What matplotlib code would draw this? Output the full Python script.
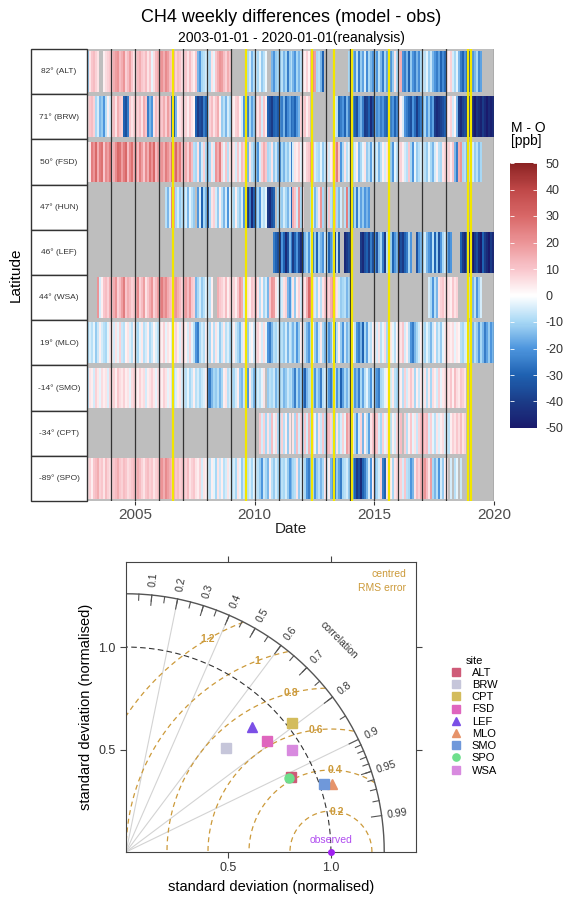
import numpy as np
import matplotlib.pyplot as plt
from matplotlib.colors import LinearSegmentedColormap, Normalize
from matplotlib.patches import Rectangle

plt.rcParams['font.family'] = ['Liberation Sans', 'DejaVu Sans']
plt.rcParams['axes.unicode_minus'] = False

N = np.nan

sites = ["ALT", "BRW", "FSD", "HUN", "LEF", "WSA", "MLO", "SMO", "CPT", "SPO"]
latitudes = [82, 71, 50, 47, 46, 44, 19, -14, -34, -89]
years = list(range(2003, 2020))
model_updates = [2006.60, 2009.64, 2012.38, 2013.30, 2014.06, 2015.60, 2018.90, 2019.04]

# monthly means of the weekly model - obs differences [ppb], one row per year 2003..2019
alt = [
    [-12, 5, 10, 12, 8, 5, N, N, 3, 6, 8, 10],
    [10, 15, 18, 20, 12, 15, 20, 8, 12, 18, 10, 5],
    [8, 12, 15, 10, 8, 12, 5, 10, -3, 6, 12, 15],
    [18, 20, 15, 22, 18, 12, 10, 15, 8, 12, 10, 6],
    [8, 10, 5, 12, 6, 3, 10, -15, -20, -10, -8, -5],
    [-8, -10, 5, -3, 10, 15, 20, 18, 12, 8, 15, 10],
    [N, N, N, N, N, N, N, N, -10, -5, -15, -8],
    [-5, -10, -3, -12, -8, -2, N, N, -15, -20, -12, -10],
    [-12, -8, -15, -10, -25, -12, -8, -15, -20, -10, -15, -8],
    [5, 3, 8, 2, 15, 22, 18, -10, -8, -15, -30, N],
    [N, N, N, N, N, N, N, N, N, N, N, -10],
    [-10, -15, -20, -8, -25, -12, -18, -5, -22, -10, -15, -20],
    [-12, -20, -8, -15, -25, -10, -18, -5, -20, -12, 5, -10],
    [10, 15, -20, -25, -15, -30, -12, -20, -25, -15, -22, -10],
    [-5, -8, -3, -12, -6, -15, -20, -25, -18, -30, -22, -28],
    [5, 3, 8, -5, -10, -3, -15, -25, -30, -20, -28, -35],
    [-25, -20, -15, -10, -22, -18, N, N, N, N, N, N],
]
brw = [
    [5, 10, 12, 8, -10, -5, -15, -12, -20, -8, 3, -5],
    [8, 12, 5, 15, 10, 8, -30, -35, -25, 10, 5, 8],
    [10, 8, 12, 5, 15, 10, -25, -15, -20, 5, 12, 8],
    [12, 10, 15, 8, 18, 12, -30, -35, -15, 3, 5, 8],
    [5, 8, 3, 10, 5, 2, -30, -40, -35, -38, -25, -30],
    [-10, 8, 12, 5, 10, 15, 3, -12, -8, -15, -5, -10],
    [5, 3, 8, 10, 2, -5, -20, -15, -25, -10, -18, -12],
    [8, 5, 12, -5, 10, 3, -30, -35, -40, -30, -28, -32],
    [-20, -25, -15, -30, -22, -18, -28, -25, -30, -20, -15, 8],
    [5, 10, 3, 8, N, N, N, N, N, N, N, N],
    [N, N, N, N, -5, -8, -30, -25, -20, -30, -15, -25],
    [-20, -25, -30, -35, -20, -15, -25, -40, -38, -30, -45, -35],
    [-15, -22, -18, -25, -20, -28, -30, -35, -25, -20, -30, -22],
    [5, 3, -5, -20, -25, -30, -35, -20, -28, -40, -30, -25],
    [-15, -10, -20, -12, -25, -18, -40, -45, -42, -38, -35, -30],
    [5, 3, 8, -5, 2, -15, -40, -45, -38, -35, -42, -40],
    [-40, -45, -50, -42, -45, -48, -40, -45, -50, -45, -48, -45],
]
fsd = [
    [0, 5, 25, 20, 30, 15, 25, 28, 10, 22, 18, 25],
    [10, 15, 22, 30, 28, 18, 25, 30, 12, 22, 28, 15],
    [20, 12, 25, 18, 10, 22, 15, 28, 20, 30, 12, 18],
    [18, 20, 15, 25, 20, 15, 28, 22, 30, 18, 25, 12],
    [10, 15, 8, 20, 12, -8, -10, 5, -15, -5, 8, -10],
    [-15, -10, 5, -5, 20, 15, 25, 8, -3, 10, -8, 5],
    [8, 5, -5, 10, -3, 12, 8, -10, -15, 5, -8, -12],
    [-12, -20, -5, 8, 15, 10, -10, -8, 5, -12, -6, -15],
    [-20, -10, -15, -8, -12, -5, -25, -5, 5, 3, 8, -3],
    [5, 3, 8, 10, 20, 15, -5, -8, -10, -3, -12, -6],
    [5, -5, 3, 8, 15, 25, 10, -20, -10, 5, -8, -3],
    [-8, -10, -5, 3, -15, -10, -3, 5, -12, -8, -18, -5],
    [-10, -5, -15, -8, 3, -5, 5, 8, -12, -20, -3, -8],
    [5, 8, 3, -5, -8, 10, -10, -20, -3, -12, -8, -5],
    [-5, -8, -12, -3, -10, -15, -5, 3, -8, -10, 5, 8],
    [5, 8, 3, 10, -15, -25, 15, 20, -10, -8, -15, -5],
    [-10, -5, -12, -8, -15, -10, N, N, N, N, N, N],
]
hun = [
    [N] * 12,
    [N] * 12,
    [N] * 12,
    [N, N, N, -8, -15, -5, 25, 20, -10, -5, -12, -8],
    [-10, -5, -15, -3, -8, -12, N, -20, -5, -30, -10, -15],
    [-35, -10, 5, 8, -5, -12, 3, -8, -15, -5, -20, -3],
    [-5, -10, 3, -8, -12, -5, -20, -35, -40, -25, -45, -30],
    [-15, -10, -20, -5, -8, -3, -40, -45, -35, -30, N, -10],
    [-8, -12, -5, -10, -15, -6, -30, 15, 10, -5, 20, -10],
    [5, N, N, N, -10, -5, -15, -8, 5, 20, -10, N],
    [-5, 10, -8, -12, 15, -10, -15, -5, N, -8, 25, -10],
    [-15, -20, -10, -25, -8, -18, -12, -20, -15, -20, N, N],
    [N] * 12,
    [N] * 12,
    [N] * 12,
    [N] * 12,
    [N] * 12,
]
lef = [
    [N] * 12,
    [N] * 12,
    [N] * 12,
    [N] * 12,
    [N] * 12,
    [N] * 12,
    [N] * 12,
    [N, N, N, N, N, N, N, N, N, -25, -30, -35],
    [-40, -20, -30, -45, -35, -15, -25, -40, -30, -20, -35, -45],
    [-30, -15, -10, -20, -8, -25, -12, -30, -10, -15, -20, -5],
    [-10, -30, -20, -15, -40, -8, -35, N, N, -45, -40, -35],
    [-30, N, N, N, N, -40, -45, -35, -30, -40, -25, -35],
    [-20, -35, -15, -10, -25, -40, -8, -5, -12, -30, -20, -15],
    [-45, -35, -40, -30, -25, -10, -20, N, N, -35, -20, -15],
    [-10, -5, -15, -20, -25, -8, -30, -12, -35, -20, -10, -5],
    [-15, -25, -20, N, N, N, N, -30, -40, -45, -35, -50],
    [-45, -50, -40, -35, -45, -50, -30, -40, -45, -50, -40, -45],
]
wsa = [
    [N, N, N, N, N, 20, -5, 3, 10, 12, 8, 15],
    [10, 15, 20, 8, 12, 18, 25, 10, 15, 12, 8, 10],
    [15, 22, 8, 12, 18, 5, 10, 15, 20, 8, 12, 18],
    [20, 25, 18, 22, 15, 12, 10, 18, 20, 15, 12, 8],
    [15, 18, 12, 20, 10, 8, -15, -10, -5, -12, -8, -3],
    [-5, -8, 3, N, N, 15, 10, 8, 5, 12, 3, 8],
    [5, 8, 3, 10, 20, 15, -5, -8, 5, 3, 10, 8],
    [15, 5, -8, 3, -10, -5, -15, 10, 20, 18, 5, -3],
    [-10, -5, 5, 8, -15, -20, -8, 5, -12, 3, 8, -5],
    [10, 5, 15, 30, 25, 8, -5, -10, 3, -8, 5, 10],
    [12, 8, 15, 20, 10, 5, -5, -12, -10, -8, -15, -10],
    [-8, N, N, N, N, N, N, N, N, N, N, N],
    [N] * 12,
    [N] * 12,
    [N, N, N, -5, -10, -20, -8, -15, 5, 8, 10, 5],
    [8, 5, 3, 10, 5, 8, N, N, N, N, N, -5],
    [-10, -15, -8, -20, -12, -5, N, N, N, N, N, N],
]
mlo = [
    [-10, -5, -8, -3, -12, -6, 3, -5, -8, -10, -3, 5],
    [3, -5, 5, -3, 8, -6, -8, 2, 5, -4, -8, 3],
    [-6, -10, -3, 4, -8, -5, 3, -10, -6, 2, -4, -8],
    [5, 3, 8, -3, 5, 2, -5, 4, 8, 3, -4, 6],
    [5, 3, -5, 8, -3, -8, -20, -25, -10, -5, -8, 3],
    [-5, -10, 3, -8, 5, -3, -12, -6, 4, -8, -4, -10],
    [-4, 3, -6, -10, -15, -5, 4, -8, -12, -3, 2, -6],
    [5, 8, 3, -5, 6, -3, -20, -25, -15, -8, -10, -5],
    [-10, -8, -12, -5, -15, -6, -10, -15, -8, -20, -12, 3],
    [5, -8, -15, -20, -10, 3, -12, -18, -6, 4, -10, -15],
    [-10, -20, -15, -5, -25, -8, 3, -12, -20, -6, -15, -10],
    [-5, 3, -8, -20, -25, -15, -30, -10, -18, -5, -8, 3],
    [3, -5, 5, -8, -3, 6, -10, -5, 4, -3, -8, 2],
    [8, 5, 10, -5, 3, -8, -20, -25, -15, -10, -5, 3],
    [-5, -10, -3, -8, -15, -6, 3, -10, -5, -12, -3, 4],
    [8, 5, 3, 6, -3, 4, 2, -8, -10, -5, -3, -6],
    [-10, -15, -8, -12, -20, -10, -15, -25, -18, -12, -20, -15],
]
smo = [
    [-8, 5, 3, -5, 8, 4, -3, 6, 3, 5, -4, 8],
    [5, 8, 3, 10, 6, 4, 8, 3, 5, -3, 6, 8],
    [5, 3, 8, 4, 6, -5, 3, 5, 8, 4, -3, 6],
    [6, 3, 8, 5, -3, 4, -6, -8, -4, 3, 5, -5],
    [-5, -8, -3, -10, -6, 3, -8, -5, -10, -6, -4, 3],
    [-20, -25, -15, -10, -12, -8, -15, -10, 3, 5, -8, -5],
    [-8, -10, -5, 3, -12, -15, -6, -10, -20, 4, -8, -15],
    [-10, -5, -8, -3, 5, N, -12, -8, -10, -6, -15, -10],
    [-10, -8, -15, -12, -6, -10, -8, -15, -25, -10, -18, -12],
    [-20, -30, -15, -10, -8, -12, -20, -10, -15, -25, -8, -5],
    [-10, -20, -25, -15, -8, -20, -12, -30, -18, -10, -15, -8],
    [-5, -10, -20, -15, -25, -10, -18, -8, -3, -12, -20, -6],
    [-15, -20, -25, -10, -8, -3, 3, -12, -5, 4, -8, -10],
    [5, 3, -8, 8, -5, 4, 10, 5, -10, 3, -6, 4],
    [-3, 5, -8, 4, -10, 6, 3, -5, 8, -3, 4, 6],
    [8, 5, 10, 3, 12, 6, 4, 10, 8, 5, N, N],
    [N] * 12,
]
cpt = [
    [N] * 12,
    [N] * 12,
    [N] * 12,
    [N] * 12,
    [N] * 12,
    [N] * 12,
    [N] * 12,
    [N, N, 10, -5, 8, -10, 5, -8, 12, -3, 6, -10],
    [-5, 8, -8, 3, -12, 5, N, 5, -10, 12, -5, 8],
    [-8, 10, -5, 15, -10, 8, -3, -12, 5, -6, 10, -8],
    [15, 12, 8, -8, -12, 5, -10, -5, 8, -3, 18, 12],
    [20, 5, -10, -20, -5, 8, -15, 3, -8, -18, 5, 10],
    [15, 10, -5, -10, 8, -3, 5, 10, -8, 3, -5, 8],
    [5, 12, N, 8, -8, 3, 10, -3, 5, -6, 8, 12],
    [15, 10, 12, -5, 8, -3, -8, 5, -4, 3, 6, -5],
    [-5, -8, 3, 8, 5, 10, 6, 12, 5, 8, N, N],
    [N] * 12,
]
spo = [
    [5, 8, 3, 10, 12, 15, 8, 10, 5, 12, 8, 6],
    [8, 10, 12, 15, 10, 8, 12, 10, 6, 8, 10, 12],
    [10, 15, 12, 8, 5, 10, 12, 8, 10, 5, 8, 10],
    [18, 20, 15, 22, 18, 15, 12, 15, 10, 12, 8, 10],
    [10, 8, 12, 5, 8, 10, 5, 3, 8, -5, 5, 3],
    [-5, -8, 3, -3, -10, 5, -6, 3, -8, -5, 5, -3],
    [-8, -5, -10, 5, -3, -12, -6, -20, -8, -5, -10, -3],
    [-5, -8, -12, -20, -6, -10, -15, 3, -8, -12, -5, -10],
    [-15, -8, -10, -5, -12, -20, -15, -10, -8, 5, -12, -5],
    [-5, -10, -20, -25, -15, -10, -20, -12, -8, -15, -10, 5],
    [-5, 3, -15, -20, -25, -12, -18, -25, -10, -8, -5, -12],
    [-10, -20, -30, -40, -35, -45, -30, -25, -15, -5, -20, 3],
    [-15, -10, -5, 8, -25, -30, 5, -8, 3, -10, 5, 8],
    [5, 8, -5, 10, -8, -10, -20, -15, 5, 12, 8, 15],
    [15, 20, 12, 5, 18, -10, -15, -8, -20, -5, -12, 3],
    [5, N, -5, N, -8, -3, N, -6, N, N, N, N],
    [N] * 12,
]
site_values = [alt, brw, fsd, hun, lef, wsa, mlo, smo, cpt, spo]

# Taylor diagram statistics (normalised by the observed standard deviation)
taylor_sites = ["ALT", "BRW", "CPT", "FSD", "LEF", "MLO", "SMO", "SPO", "WSA"]
taylor_sd = [0.886, 0.704, 1.026, 0.874, 0.866, 1.059, 1.020, 0.875, 0.952]
taylor_corr = [0.910, 0.693, 0.790, 0.785, 0.710, 0.949, 0.945, 0.911, 0.852]
rms_levels = [0.2, 0.4, 0.6, 0.8, 1.0, 1.2]
corr_lines = [0.2, 0.4, 0.6, 0.8, 0.9]
corr_labels = [0.1, 0.2, 0.3, 0.4, 0.5, 0.6, 0.7, 0.8, 0.9, 0.95, 0.99]

taylor_colors = ["#CF5B78", "#C6C6DA", "#D3BC5C", "#DF66BE", "#7B4FE6",
                 "#E6936A", "#6F98DA", "#6EDF8C", "#D88ADF"]
taylor_markers = ["s", "s", "s", "s", "^", "^", "s", "o", "s"]

W, H = 566, 899
fig = plt.figure(figsize=(W / 100, H / 100), dpi=100)

cmap = LinearSegmentedColormap.from_list("mo", [
    (0.0, "#1A1A6C"), (0.1, "#1B3C88"), (0.2, "#1F62B2"), (0.3, "#4E96DE"),
    (0.4, "#A8D8F5"), (0.5, "#FFFFFF"), (0.6, "#F9C6CC"), (0.7, "#EC9598"),
    (0.8, "#D96868"), (0.9, "#C04848"), (1.0, "#8B2323")])
norm = Normalize(-50, 50)


def fig_rect(x0, y0, x1, y1):
    return [x0 / W, 1 - y1 / H, (x1 - x0) / W, (y1 - y0) / H]


# ---- heat stripes ----
ax = fig.add_axes(fig_rect(87, 49, 494, 501))
ax.set_facecolor("#BEBEBE")
edges = years[0] + np.arange(len(years) * 12 + 1) / 12
for i, vals in enumerate(site_values):
    v = np.ma.masked_invalid(np.array(vals, dtype=float).ravel())
    mesh = ax.pcolormesh(edges, [i - 0.45, i + 0.45], v[None, :], cmap=cmap,
                         norm=norm, edgecolors="none", antialiased=False)
for yr in range(2004, 2021):
    ax.axvline(yr, color="#333333", lw=0.9)
for d in model_updates:
    ax.axvline(d, color="#F2E600", lw=1.6)
ax.set_xlim(2003, 2020)
ax.set_ylim(len(sites) - 0.5, -0.5)
ax.set_yticks([])
ax.set_xticks([2005, 2010, 2015, 2020])
ax.tick_params(axis="x", length=3, color="#333333", labelsize=11,
               labelcolor="#4D4D4D", pad=2)
for s in ax.spines.values():
    s.set_visible(False)
ax.set_xlabel("Date", fontsize=11, labelpad=0, color="#222222")

# site label strip
lab = fig.add_axes(fig_rect(31, 49, 87, 501))
lab.set_xlim(0, 1)
lab.set_ylim(len(sites) - 0.5, -0.5)
lab.axis("off")
for i, (s, lat) in enumerate(zip(sites, latitudes)):
    lab.add_patch(Rectangle((0, i - 0.5), 1, 1, facecolor="white",
                            edgecolor="#333333", lw=1, clip_on=False))
    lab.text(0.5, i, f"{lat}° ({s})", ha="center", va="center",
             fontsize=6, color="#333333")

fig.text(16 / W, 1 - 275 / H, "Latitude", rotation=90, ha="center",
         va="center", fontsize=11)
fig.text(291 / W, 1 - 17 / H, "CH4 weekly differences (model - obs)",
         ha="center", va="center", fontsize=13)
fig.text(291 / W, 1 - 38 / H, "2003-01-01 - 2020-01-01(reanalysis)",
         ha="center", va="center", fontsize=10)

# colour bar
cax = fig.add_axes(fig_rect(510, 163, 537, 428))
cb = fig.colorbar(mesh, cax=cax, ticks=range(-50, 51, 10))
cb.outline.set_visible(False)
cax.tick_params(labelsize=9, length=3, color="white", width=0.6,
                direction="in", left=True, right=True, pad=6,
                labelcolor="#333333")
fig.text(511 / W, 1 - 128 / H, "M - O", fontsize=10, va="center")
fig.text(511 / W, 1 - 141 / H, "[ppb]", fontsize=10, va="center")

# ---- Taylor diagram ----
tx = fig.add_axes(fig_rect(126, 562, 416, 852))
lim = 1.415
sd_max = 1.26
gold = "#CC9A3A"
tx.set_xlim(0, lim)
tx.set_ylim(0, lim)

for c in corr_lines:
    th = np.arccos(c)
    tx.plot([0, sd_max * np.cos(th)], [0, sd_max * np.sin(th)],
            color="#D3D3D3", lw=0.8)

t = np.linspace(0, np.pi, 600)
label_angles = [81, 87, 97, 104, 111, 120]
for rms, a in zip(rms_levels, label_angles):
    x = 1 + rms * np.cos(t)
    y = rms * np.sin(t)
    ok = (x >= 0) & (x ** 2 + y ** 2 <= sd_max ** 2)
    tx.plot(np.where(ok, x, np.nan), np.where(ok, y, np.nan), color=gold,
            lw=0.9, dashes=(4, 3))
    ar = np.radians(a)
    tx.text(1 + rms * np.cos(ar), rms * np.sin(ar), f"{rms:g}", color=gold,
            fontsize=7.5, fontweight="bold", ha="center", va="center")

q = np.linspace(0, np.pi / 2, 300)
tx.plot(np.cos(q), np.sin(q), color="#333333", lw=0.8, dashes=(5, 3))
tx.plot(sd_max * np.cos(q), sd_max * np.sin(q), color="#555555", lw=1)

minor = list(np.arange(0.05, 0.9, 0.05)) + list(np.arange(0.91, 0.99, 0.01))
for c in minor:
    th = np.arccos(c)
    tx.plot([sd_max * np.cos(th), (sd_max - 0.03) * np.cos(th)],
            [sd_max * np.sin(th), (sd_max - 0.03) * np.sin(th)],
            color="#555555", lw=0.8)
for c in corr_labels:
    th = np.arccos(c)
    tx.plot([sd_max * np.cos(th), (sd_max - 0.05) * np.cos(th)],
            [sd_max * np.sin(th), (sd_max - 0.05) * np.sin(th)],
            color="#555555", lw=0.8)
    tx.text(1.335 * np.cos(th), 1.335 * np.sin(th), f"{c:g}",
            rotation=np.degrees(th), rotation_mode="anchor", ha="center",
            va="center", fontsize=7.5, color="#333333")
tx.text(1.465 * np.cos(np.pi / 4), 1.465 * np.sin(np.pi / 4), "correlation",
        rotation=-45, rotation_mode="anchor", ha="center", va="center",
        fontsize=7.5, color="#333333")

tx.text(1.366, 1.356, "centred", color=gold, fontsize=7.5, ha="right",
        va="center")
tx.text(1.366, 1.288, "RMS error", color=gold, fontsize=7.5, ha="right",
        va="center")

for s, sd, r, col, mk in zip(taylor_sites, taylor_sd, taylor_corr,
                             taylor_colors, taylor_markers):
    th = np.arccos(r)
    tx.plot(sd * np.cos(th), sd * np.sin(th), marker=mk, color=col, ms=6.5,
            ls="none", label=s, zorder=5)

tx.plot(1, 0, marker="o", color="#A020F0", ms=4, clip_on=False, zorder=6)
tx.text(1, 0.06, "observed", color="#B04CF0", fontsize=7.5, ha="center",
        va="center")

tx.set_xticks([0.5, 1.0])
tx.set_yticks([0.5, 1.0])
tx.set_xticklabels(["0.5", "1.0"])
tx.set_yticklabels(["0.5", "1.0"])
tx.tick_params(direction="out", top=True, right=True, length=4,
               color="#444444", labelsize=9, labelcolor="#333333")
for s in tx.spines.values():
    s.set_color("#444444")
    s.set_linewidth(0.8)
tx.set_xlabel("standard deviation (normalised)", fontsize=10.5)
tx.set_ylabel("standard deviation (normalised)", fontsize=10.5)

leg = fig.legend(loc="upper left", bbox_to_anchor=(445 / W, 1 - 650 / H),
                 title="site", frameon=False, fontsize=8, title_fontsize=8,
                 labelspacing=0.2, handletextpad=0.9, handlelength=1,
                 markerscale=0.8, borderpad=0, alignment="center")

fig.savefig("out.png", dpi=100)
